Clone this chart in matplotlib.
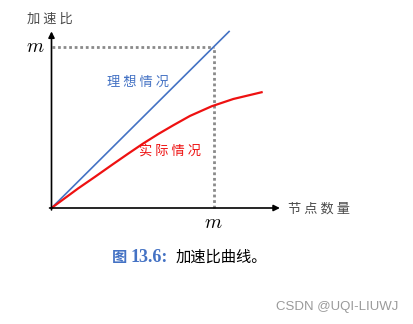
import matplotlib
matplotlib.use("Agg")
import matplotlib.pyplot as plt

plt.rcParams['font.family'] = ['Noto Sans CJK SC', 'DejaVu Sans']
plt.rcParams['mathtext.fontset'] = 'cm'

# Ideal speedup: linear in node count (m = 1 unit)
ideal_x = [0.0, 1.10]
ideal_y = [0.0, 1.10]

# Actual speedup: sub-linear, flattening past m
actual_x = [0.0, 0.165, 0.269, 0.372, 0.474, 0.565, 0.66, 0.752, 0.855,
            0.989, 1.122, 1.297]
actual_y = [0.0, 0.122, 0.194, 0.267, 0.338, 0.400, 0.460, 0.514, 0.572,
            0.632, 0.677, 0.719]

m_value = 1.0

W, H, DPI = 413, 324, 100
fig = plt.figure(figsize=(W / DPI, H / DPI), dpi=DPI)
ax = fig.add_axes([0, 0, 1, 1])
ax.set_axis_off()

# map data units onto the canvas: origin at (51.5, 208) px
ox, oy, sx, sy = 51.5, 208.0, 162.0, 161.0
ax.set_xlim(-ox / sx, (W - ox) / sx)
ax.set_ylim((oy - H) / sy, oy / sy)


def px(x, y):
    """Convert canvas pixel position to data coordinates."""
    return (x - ox) / sx, (oy - y) / sy


# guide lines at m
ax.plot([0, m_value], [m_value, m_value], color='#8a8a8a', lw=2.0,
        ls=(0, (1, 1)), dash_capstyle='butt', zorder=1)
ax.plot([m_value, m_value], [0, m_value], color='#8a8a8a', lw=2.0,
        ls=(0, (1, 1)), dash_capstyle='butt', zorder=1)

# axes with arrows
arrow = dict(arrowstyle='-|>', color='black', lw=1.2,
             mutation_scale=9, shrinkA=0, shrinkB=0)
ax.annotate('', xy=(1.41, 0), xytext=(-0.012, 0), arrowprops=arrow, zorder=3)
ax.annotate('', xy=(0, 1.097), xytext=(0, -0.012), arrowprops=arrow, zorder=3)

# curves
ax.plot(ideal_x, ideal_y, color='#4472C4', lw=1.2, zorder=2,
        solid_capstyle='butt')
ax.plot(actual_x, actual_y, color='#EE1111', lw=1.6, zorder=2,
        solid_joinstyle='round')

label_color = '#4a4a4a'
ax.text(*px(50, 19), '加 速 比', fontsize=9.5, color=label_color,
        ha='center', va='center')
ax.text(*px(288, 209), '节 点 数 量', fontsize=9.5, color=label_color,
        ha='left', va='center')
ax.text(*px(35, 46), r'$m$', fontsize=14, color='black',
        ha='center', va='center')
ax.text(*px(213, 223), r'$m$', fontsize=14, color='black',
        ha='center', va='center')
ax.text(*px(138, 82), '理 想 情 况', fontsize=9.5, color='#4472C4',
        ha='center', va='center')
ax.text(*px(170, 151), '实 际 情 况', fontsize=9.5, color='#EE1111',
        ha='center', va='center')

# caption
caption_blue = '#4472C4'
ax.text(*px(112, 257), '图', fontsize=11, color=caption_blue,
        fontweight='bold', family=['Noto Sans CJK SC'],
        ha='left', va='center')
ax.text(*px(131, 257), '13.6:', fontsize=13, color=caption_blue,
        fontweight='bold', family=['Liberation Serif'],
        ha='left', va='center')
ax.text(*px(176, 257), '加速比曲线。', fontsize=11, color='black',
        family=['Noto Sans CJK SC'], ha='left', va='center')

ax.text(*px(398, 307), 'CSDN @UQI-LIUWJ', fontsize=9.5, color='#9a9a9a',
        family=['Liberation Sans'], ha='right', va='center')

fig.savefig('out.png', dpi=DPI)
